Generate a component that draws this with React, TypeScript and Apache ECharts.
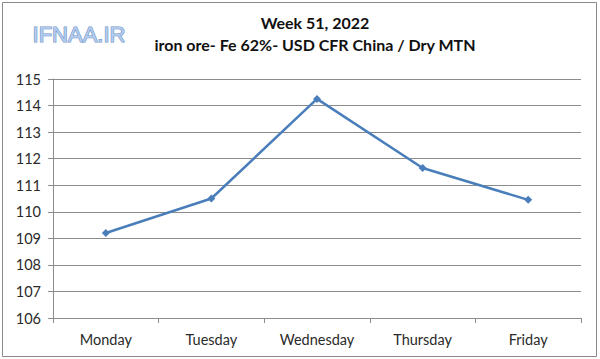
import React, { useEffect, useRef } from "react";
import * as echarts from "echarts";

const categories = ["Monday", "Tuesday", "Wednesday", "Thursday", "Friday"];
const prices = [109.2, 110.5, 114.25, 111.65, 110.45];
const titleLine1 = "Week 51, 2022";
const titleLine2 = "iron ore- Fe 62%- USD CFR China / Dry MTN";
const logoText = "IFNAA.IR";

export default function App() {
  const ref = useRef<HTMLDivElement>(null);
  useEffect(() => {
    if (!ref.current) return;
    const chart = echarts.init(ref.current, null, { renderer: "svg" });
    const font = "Lato, 'Open Sans', sans-serif";
    chart.setOption({
      animation: false,
      backgroundColor: "#ffffff",
      grid: { left: 53, right: 19, top: 79, bottom: 41, containLabel: false },
      graphic: [
        {
          type: "rect",
          shape: { x: 2.5, y: 2.5, width: 594, height: 354 },
          style: { fill: "none", stroke: "#8a8a8a", lineWidth: 1 },
          silent: true,
        },
        {
          type: "text",
          x: 315,
          y: 22,
          style: {
            text: titleLine1,
            font: `bold 16px ${font}`,
            fill: "#111",
            textAlign: "center",
            textVerticalAlign: "middle",
          },
        },
        {
          type: "text",
          x: 315,
          y: 44,
          style: {
            text: titleLine2,
            font: `bold 16px ${font}`,
            fill: "#111",
            textAlign: "center",
            textVerticalAlign: "middle",
          },
        },
        {
          type: "text",
          x: 79,
          y: 34,
          style: {
            text: logoText,
            font: `22px 'Liberation Sans', Arial, sans-serif`,
            fill: "#b3cbec",
            stroke: "#6f93c9",
            lineWidth: 1.2,
            textAlign: "center",
            textVerticalAlign: "middle",
          },
        },
      ],
      xAxis: {
        type: "category",
        data: categories,
        boundaryGap: true,
        axisLine: { show: true, lineStyle: { color: "#8c8c8c", width: 1 } },
        axisTick: { show: true, length: 5, inside: false, lineStyle: { color: "#8c8c8c" } },
        axisLabel: { color: "#2a2a2a", fontFamily: font, fontSize: 14.5, margin: 14 },
        splitLine: { show: false },
      },
      yAxis: {
        type: "value",
        min: 106,
        max: 115,
        interval: 1,
        axisLine: { show: true, lineStyle: { color: "#8c8c8c", width: 1 } },
        axisTick: { show: true, length: 5, lineStyle: { color: "#8c8c8c" } },
        axisLabel: { color: "#2a2a2a", fontFamily: font, fontSize: 14.5, margin: 12 },
        splitLine: { show: true, lineStyle: { color: "#8c8c8c", width: 1 } },
      },
      series: [
        {
          type: "line",
          data: prices,
          symbol: "diamond",
          symbolSize: 8,
          lineStyle: { color: "#4a7ebb", width: 2.5 },
          itemStyle: { color: "#4a7ebb" },
        },
      ],
    });
    return () => chart.dispose();
  }, []);
  return (
    <div
      ref={ref}
      style={{ position: "fixed", left: 0, top: 0, width: 600, height: 359 }}
    />
  );
}
